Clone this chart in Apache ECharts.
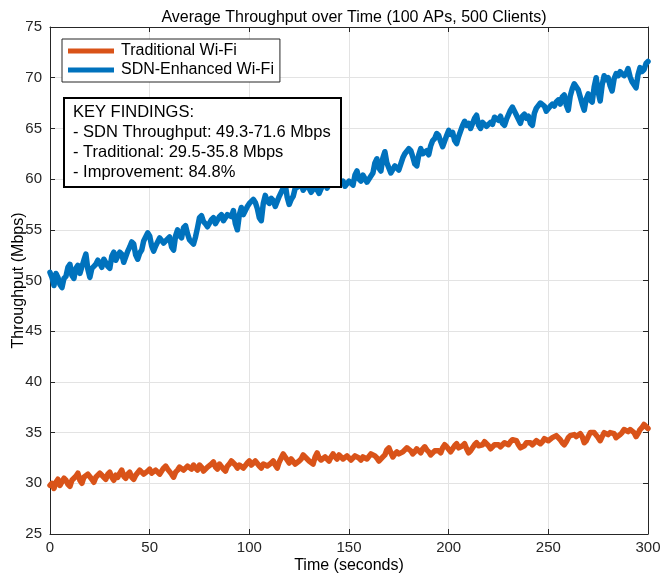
<!DOCTYPE html>
<html>
<head>
<meta charset="utf-8">
<script src="https://cdn.jsdelivr.net/npm/echarts@6/dist/echarts.min.js"></script>
<style>
  html, body { margin: 0; padding: 0; background: #fff; }
  #chart { width: 660px; height: 578px; }
</style>
</head>
<body>
<div id="chart"></div>
<script>
// Sampling times (seconds), one sample per second from 0 to 300
const timeStart = 0, timeStep = 1, sampleCount = 301;
const times = Array.from({ length: sampleCount }, (_, i) => timeStart + i * timeStep);

// Average throughput per client (Mbps), traditional Wi-Fi
const traditionalMbps = [
  29.8, 30.0, 29.5, 30.1, 30.4, 29.8, 29.9, 30.5, 30.3, 29.9,
  29.7, 30.3, 30.2, 30.7, 31.0, 30.3, 30.0, 30.6, 30.5, 30.9,
  30.9, 30.4, 30.1, 30.6, 30.7, 31.0, 31.1, 30.6, 30.4, 30.9,
  31.1, 30.6, 30.3, 30.8, 30.6, 31.0, 31.3, 30.7, 30.5, 30.9,
  31.1, 30.6, 30.4, 30.8, 30.9, 31.3, 31.2, 30.9, 30.8, 31.2,
  31.4, 31.0, 30.9, 31.3, 31.2, 30.9, 31.0, 31.5, 31.7, 31.4,
  31.5, 30.9, 30.6, 31.1, 31.3, 31.6, 31.7, 31.3, 31.2, 31.7,
  31.6, 31.4, 31.8, 31.5, 31.3, 31.8, 31.6, 31.2, 31.1, 31.6,
  31.5, 31.9, 32.1, 31.6, 31.4, 31.9, 31.8, 31.4, 31.2, 31.7,
  31.9, 32.2, 32.3, 31.8, 31.5, 31.8, 31.9, 31.5, 31.6, 32.0,
  32.2, 31.8, 31.7, 32.2, 32.1, 31.7, 31.5, 31.9, 32.0, 31.7,
  31.6, 32.0, 32.2, 31.8, 31.5, 32.1, 32.5, 32.9, 32.8, 32.3,
  32.0, 32.4, 32.3, 31.9, 31.8, 32.2, 32.4, 32.8, 32.9, 32.4,
  32.2, 32.1, 31.9, 32.6, 33.0, 32.5, 32.3, 32.4, 32.6, 32.4,
  32.2, 32.6, 32.9, 32.6, 32.4, 32.8, 32.7, 32.4, 32.3, 32.7,
  32.6, 32.3, 32.4, 32.7, 32.8, 32.5, 32.3, 32.6, 32.7, 32.4,
  32.5, 32.9, 33.0, 32.7, 32.5, 32.2, 32.3, 32.6, 32.8, 33.3,
  33.5, 33.0, 32.6, 32.9, 33.1, 32.9, 32.8, 33.1, 33.2, 33.5,
  33.6, 33.2, 32.9, 33.1, 33.4, 33.2, 33.0, 33.4, 33.6, 33.3,
  33.1, 32.8, 32.9, 33.2, 33.3, 33.2, 33.0, 33.5, 33.8, 33.6,
  33.5, 33.1, 33.2, 33.7, 33.9, 33.5, 33.4, 33.7, 33.9, 33.4,
  33.0, 33.2, 33.5, 33.8, 34.0, 33.7, 33.6, 33.8, 34.1, 33.9,
  33.7, 33.4, 33.5, 33.8, 33.9, 33.8, 33.6, 33.8, 34.0, 34.0,
  33.8, 34.1, 34.3, 34.4, 34.2, 33.8, 33.5, 33.5, 33.7, 34.0,
  34.1, 34.0, 33.8, 33.9, 34.2, 34.1, 33.9, 34.1, 34.4, 34.4,
  34.2, 34.3, 34.5, 34.4, 34.7, 34.6, 34.3, 34.0, 33.8, 34.1,
  34.5, 34.7, 34.8, 34.8, 34.6, 34.7, 34.9, 34.6, 34.0, 34.2,
  34.6, 35.0, 35.1, 35.0, 34.9, 34.5, 34.2, 34.6, 35.0, 35.0,
  34.8, 35.0, 35.1, 34.9, 34.5, 34.6, 34.8, 35.0, 35.3, 35.2,
  35.1, 35.3, 35.4, 35.0, 34.6, 34.9, 35.3, 35.5, 35.8, 35.6,
  35.4
];

// Average throughput per client (Mbps), SDN-enhanced Wi-Fi
const sdnMbps = [
  50.8, 50.3, 49.5, 50.7, 50.3, 49.6, 49.3, 50.2, 50.4, 51.3,
  51.6, 50.5, 50.2, 51.2, 51.5, 50.7, 50.6, 52.0, 52.6, 51.1,
  50.3, 51.2, 51.4, 51.6, 52.0, 51.7, 51.3, 52.1, 52.2, 51.4,
  51.2, 52.4, 52.8, 52.0, 51.9, 52.8, 52.6, 51.8, 51.7, 52.9,
  53.3, 53.8, 53.6, 52.5, 52.1, 52.7, 53.0, 53.9, 54.0, 54.7,
  54.4, 53.4, 52.9, 53.4, 53.5, 54.2, 54.2, 53.7, 53.6, 54.1,
  54.3, 53.3, 53.0, 54.4, 55.0, 54.4, 54.2, 55.2, 55.4, 54.6,
  54.0, 53.9, 53.6, 54.3, 55.2, 56.2, 56.4, 55.8, 55.6, 55.3,
  55.2, 56.0, 56.2, 55.6, 55.5, 56.3, 56.5, 55.9, 55.8, 56.5,
  56.6, 56.3, 56.9, 55.6, 55.0, 56.5, 57.2, 56.5, 56.5, 57.3,
  57.6, 57.7, 58.0, 57.7, 57.1, 56.2, 55.9, 57.6, 58.4, 57.8,
  57.6, 58.1, 57.9, 57.3, 57.3, 58.3, 58.7, 59.1, 59.5, 58.2,
  57.5, 58.0, 58.3, 59.1, 59.2, 59.3, 59.6, 58.9, 58.8, 59.5,
  59.4, 58.7, 58.6, 59.3, 59.2, 58.6, 58.7, 59.5, 59.7, 59.1,
  59.2, 59.8, 59.9, 60.1, 60.5, 59.8, 59.6, 59.8, 59.3, 59.3,
  59.8, 59.7, 59.4, 60.4, 60.8, 60.0, 59.8, 60.4, 60.3, 59.7,
  59.6, 60.3, 60.6, 61.6, 62.0, 61.1, 60.8, 62.1, 62.7, 61.6,
  61.1, 60.6, 60.7, 61.3, 61.4, 60.9, 61.0, 62.1, 62.5, 62.6,
  63.0, 62.8, 62.2, 61.5, 61.3, 62.4, 63.0, 62.5, 62.6, 62.8,
  62.4, 63.3, 63.8, 64.0, 64.5, 64.3, 63.7, 63.2, 63.3, 64.3,
  64.8, 64.4, 64.6, 63.8, 63.5, 64.2, 64.3, 65.3, 65.7, 65.3,
  65.5, 65.0, 65.0, 66.0, 66.3, 65.3, 65.0, 65.6, 65.7, 65.2,
  65.3, 65.6, 65.4, 66.1, 66.0, 65.8, 66.2, 65.5, 65.3, 65.9,
  66.0, 66.8, 67.1, 66.7, 66.8, 65.9, 65.5, 66.2, 66.4, 66.0,
  66.2, 65.5, 65.3, 66.5, 67.0, 67.0, 67.5, 67.6, 67.2, 66.7,
  66.6, 67.2, 67.4, 67.2, 67.6, 67.8, 67.4, 68.1, 68.3, 67.3,
  66.8, 68.2, 68.9, 69.4, 69.3, 68.8, 68.8, 67.4, 66.8, 67.9,
  68.4, 67.8, 67.6, 69.1, 70.0, 68.6, 67.7, 69.3, 70.2, 69.8,
  70.0, 69.2, 68.7, 69.9, 70.4, 70.2, 70.6, 70.7, 70.2, 70.4,
  70.9, 70.1, 69.6, 69.5, 69.0, 70.3, 71.0, 70.6, 70.8, 71.4,
  71.6
];

const seriesNames = ['Traditional Wi-Fi', 'SDN-Enhanced Wi-Fi'];
const improvementText = '84.8%';

// Axis settings
const xMin = 0, xMax = 300, xStep = 50;
const yMin = 25, yMax = 75, yStep = 5;

const fontFamily = '"Liberation Sans", Arial, Helvetica, sans-serif';
const axisColor = '#262626';
const gridColor = '#e3e3e3';
const orange = '#D95319';
const blue = '#0072BD';

const pair = (xs, ys) => xs.map((x, i) => [x, ys[i]]);
const fmt = v => v.toFixed(1);
const rangeText = arr => fmt(Math.min(...arr)) + '-' + fmt(Math.max(...arr));

const findings = [
  'KEY FINDINGS:',
  '- SDN Throughput: ' + rangeText(sdnMbps) + ' Mbps',
  '- Traditional: ' + rangeText(traditionalMbps) + ' Mbps',
  '- Improvement: ' + improvementText
].join('\n');

const chart = echarts.init(document.getElementById('chart'), null, { renderer: 'canvas' });

const tickStyle = { show: true, inside: true, length: 5, lineStyle: { color: axisColor, width: 1 } };
const lineAxis = { show: true, onZero: false, lineStyle: { color: axisColor, width: 1 } };
const labelStyle = { color: axisColor, fontSize: 15, fontFamily: fontFamily };

chart.setOption({
  animation: false,
  backgroundColor: '#fff',
  title: {
    text: 'Average Throughput over Time (100 APs, 500 Clients)',
    left: 349, top: 5, textAlign: 'center',
    textStyle: { color: '#000', fontSize: 16, fontWeight: 'normal', fontFamily: fontFamily }
  },
  grid: { left: 50, right: 12, top: 27, bottom: 44, containLabel: false, outerBoundsMode: 'none' },
  legend: {
    orient: 'vertical',
    left: 62, top: 39,
    padding: [4, 6, 4, 6],
    itemGap: 3,
    itemWidth: 46, itemHeight: 5,
    icon: 'rect',
    backgroundColor: '#fff',
    borderColor: axisColor, borderWidth: 1,
    textStyle: { color: '#000', fontSize: 16, fontFamily: fontFamily, padding: [0, 0, 0, 2] },
    data: seriesNames
  },
  xAxis: [
    {
      type: 'value', min: xMin, max: xMax, interval: xStep,
      name: 'Time (seconds)', nameLocation: 'middle', nameGap: 24, nameMoveOverlap: false,
      nameTextStyle: { color: '#000', fontSize: 16, fontFamily: fontFamily },
      axisLine: lineAxis, axisTick: tickStyle,
      axisLabel: Object.assign({ margin: 6 }, labelStyle),
      splitLine: { show: true, lineStyle: { color: gridColor, width: 1 } }
    },
    {
      type: 'value', position: 'top', min: xMin, max: xMax, interval: xStep,
      axisLine: lineAxis, axisTick: tickStyle, axisLabel: { show: false },
      splitLine: { show: false }
    }
  ],
  yAxis: [
    {
      type: 'value', min: yMin, max: yMax, interval: yStep,
      name: 'Throughput (Mbps)', nameLocation: 'middle', nameGap: 23, nameRotate: 90,
      nameMoveOverlap: false,
      nameTextStyle: { color: '#000', fontSize: 16, fontFamily: fontFamily },
      axisLine: lineAxis, axisTick: tickStyle,
      axisLabel: Object.assign({ margin: 8 }, labelStyle),
      splitLine: { show: true, lineStyle: { color: gridColor, width: 1 } }
    },
    {
      type: 'value', position: 'right', min: yMin, max: yMax, interval: yStep,
      axisLine: lineAxis, axisTick: tickStyle, axisLabel: { show: false },
      splitLine: { show: false }
    }
  ],
  series: [
    {
      name: seriesNames[0], type: 'line', data: pair(times, traditionalMbps),
      showSymbol: false, symbol: 'none', smooth: false,
      color: orange,
      lineStyle: { color: orange, width: 5.5, join: 'round', cap: 'round' },
      z: 3
    },
    {
      name: seriesNames[1], type: 'line', data: pair(times, sdnMbps),
      showSymbol: false, symbol: 'none', smooth: false,
      color: blue,
      lineStyle: { color: blue, width: 5.5, join: 'round', cap: 'round' },
      z: 4
    }
  ],
  graphic: [
    {
      type: 'group', left: 63, top: 97, z: 100,
      children: [
        {
          type: 'rect', z: 100,
          shape: { x: 0, y: 0, width: 277, height: 89 },
          style: { fill: '#fff', stroke: '#000', lineWidth: 2 }
        },
        {
          type: 'text', x: 9, y: 4, z: 101,
          style: {
            text: findings, fill: '#000',
            font: '16.5px ' + fontFamily, lineHeight: 20
          }
        }
      ]
    }
  ]
});
</script>
</body>
</html>
